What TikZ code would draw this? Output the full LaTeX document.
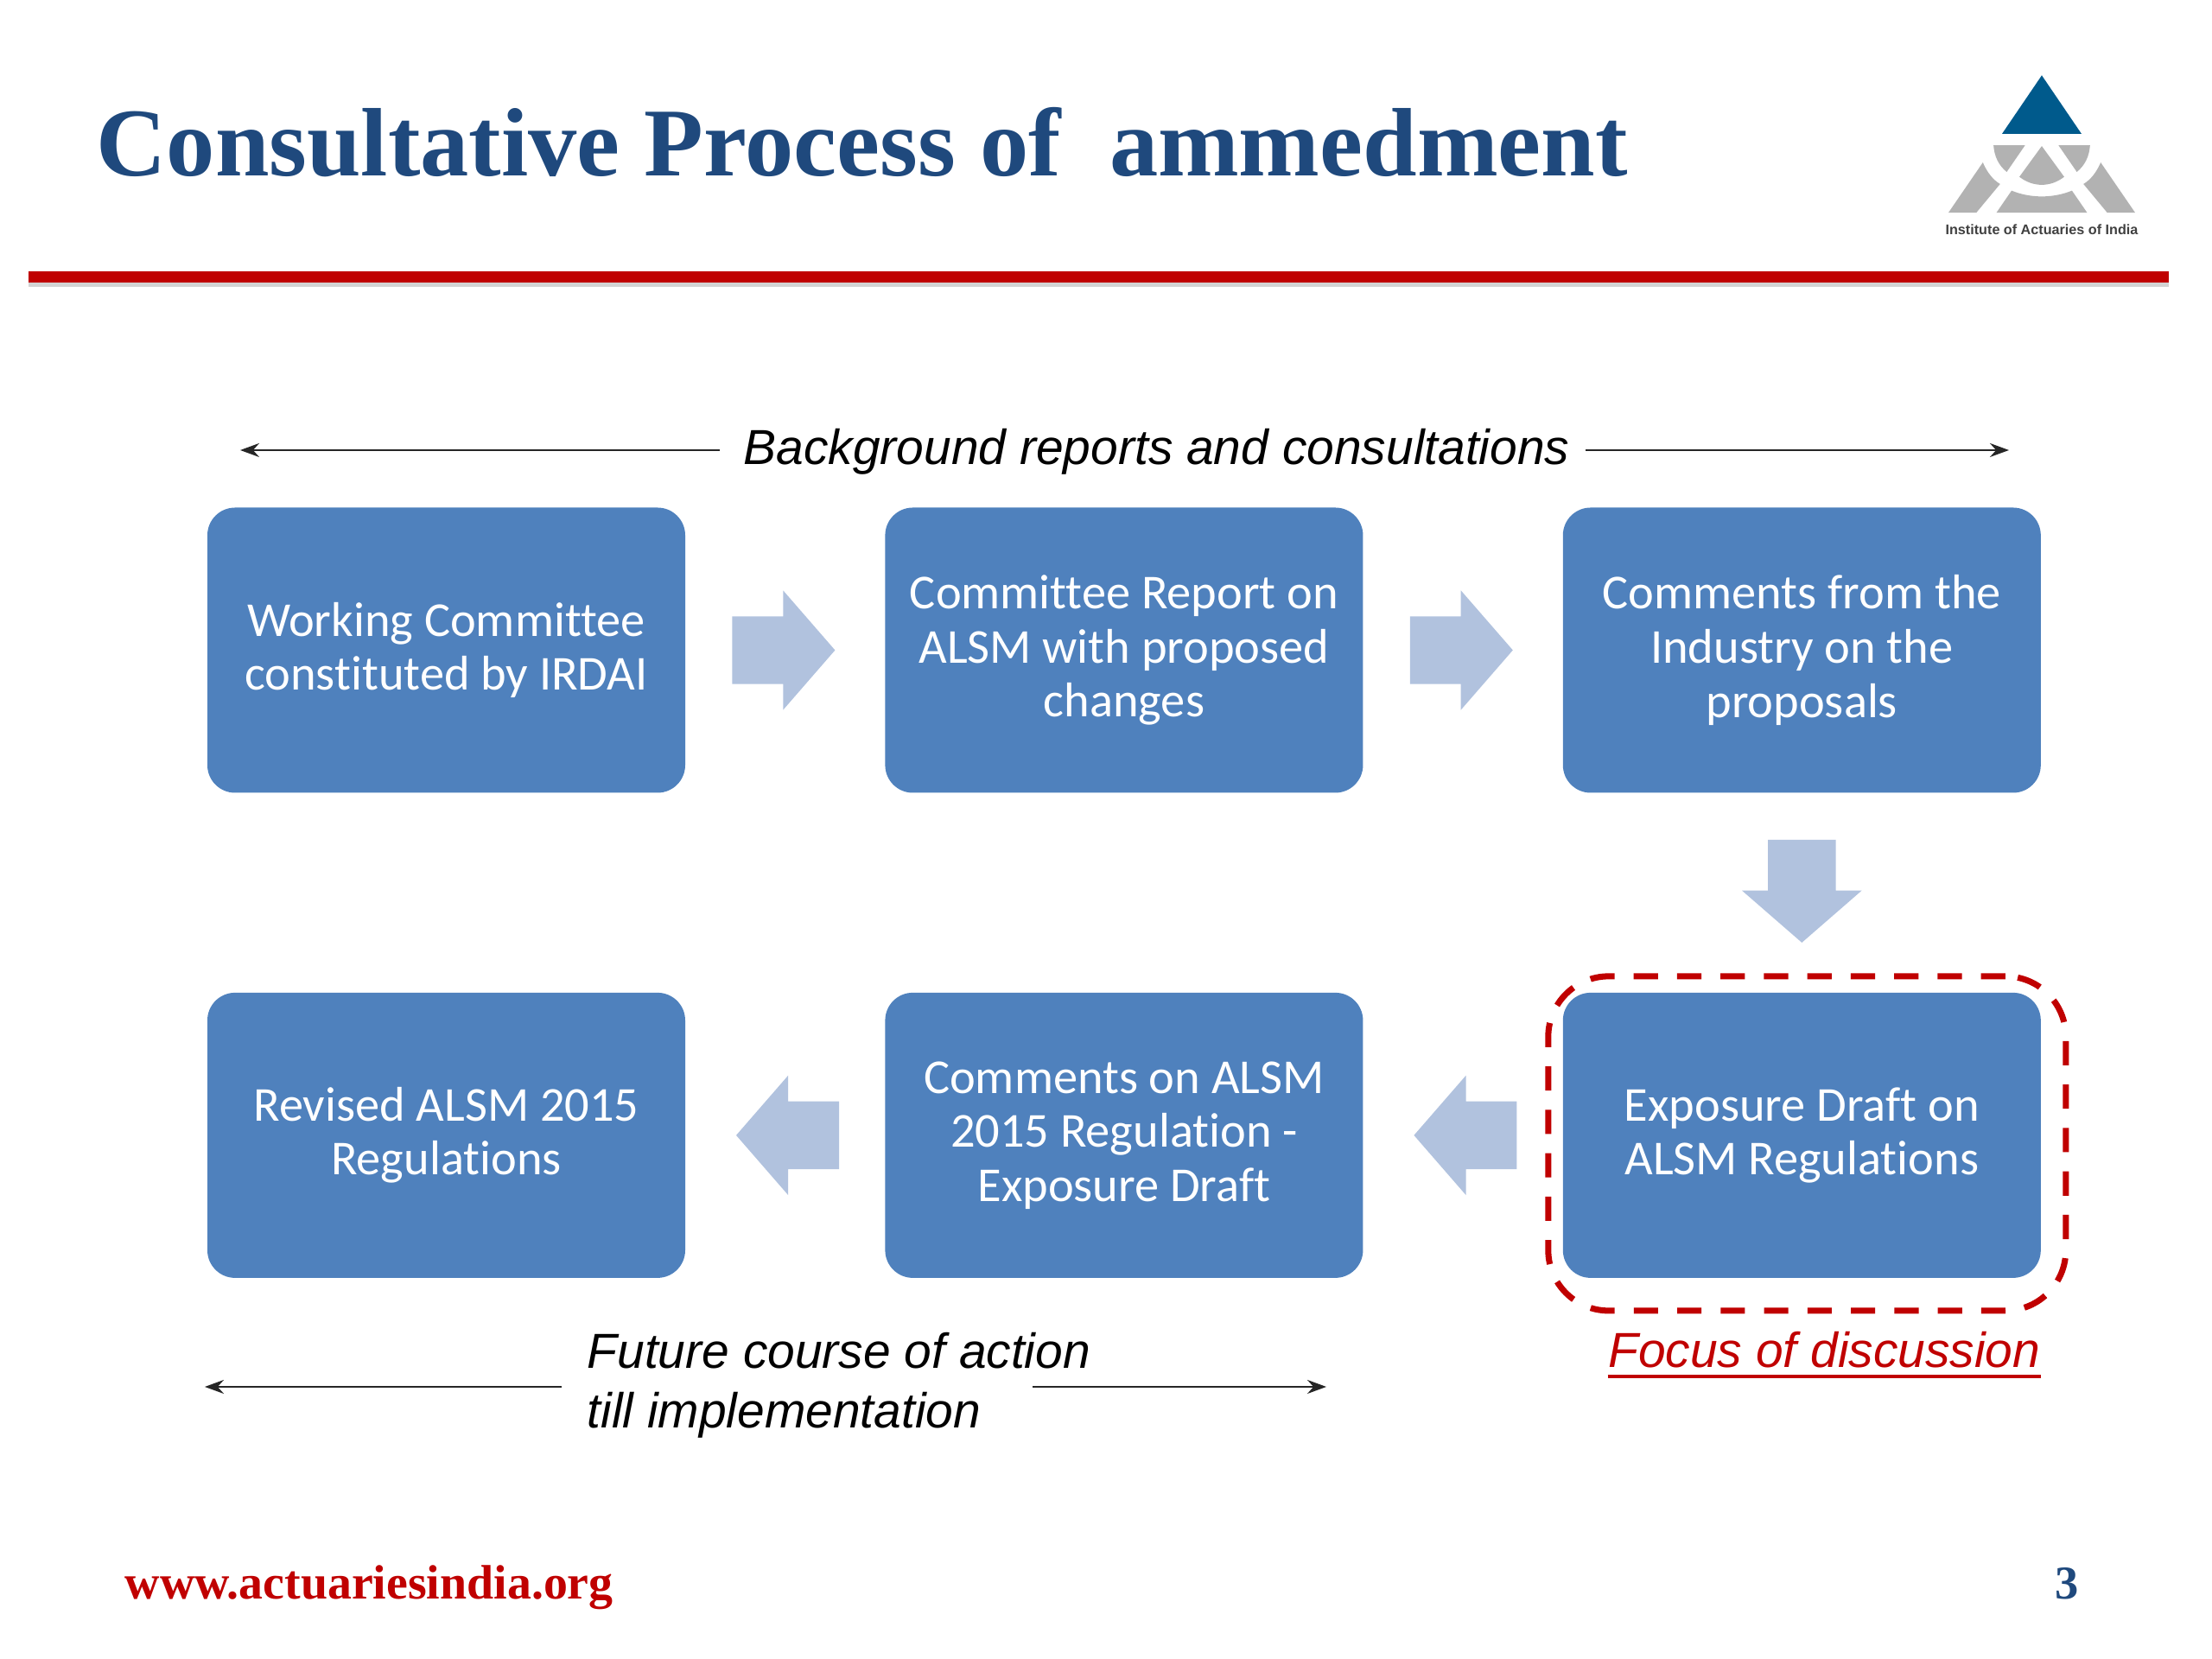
\documentclass[tikz,border=0pt]{standalone}
\usepackage{fontspec}
\setmainfont{Liberation Serif}
\setsansfont{Liberation Sans}
\newfontfamily\carlitofont[Ligatures=NoCommon]{Carlito}
\usetikzlibrary{arrows.meta,positioning,calc,shapes.arrows,shadows}
\definecolor{boxblue}{HTML}{4F81BD}
\definecolor{arrowblue}{HTML}{B1C2DE}
\definecolor{titleblue}{HTML}{1F497D}
\definecolor{deepred}{HTML}{C00000}
\definecolor{logoblue}{HTML}{005A8C}
\definecolor{logogray}{HTML}{B2B2B2}
\tikzset{
  stepbox/.style={rectangle,rounded corners=0.32cm,fill=boxblue,text=white,minimum width=5.53cm,minimum height=3.3cm,
    align=center,font=\carlitofont\fontsize{16.05}{17.8}\selectfont,inner sep=0pt},
  blockarr/.style={single arrow,fill=arrowblue,minimum height=1.19cm,minimum width=1.37cm,single arrow head extend=0.3cm,
    single arrow tip angle=98,inner xsep=0pt,inner ysep=0.385cm},
  thinarr/.style={-{Stealth[length=0.22cm,width=0.16cm]},line width=0.6pt,black!85},
  note/.style={font=\sffamily\itshape\fontsize{16.2}{19.4}\selectfont,inner sep=0pt,align=left},
  focusbox/.style={draw=deepred,line width=2pt,rounded corners=0.7cm,dash pattern=on 8pt off 6.3pt}
}
\begin{document}
\begin{tikzpicture}[node distance=2.3cm]
  \useasboundingbox (0,0) rectangle (25.6,19.2);

  % header
  \node[anchor=base west,inner sep=0pt,text=titleblue,font=\bfseries\fontsize{32}{36}\selectfont] (title) at (1.11,17.16) {Consultative Process of\hspace{0.25em} ammedment};
  \node[rectangle,fill=deepred,minimum width=24.77cm,minimum height=0.13cm,inner sep=0pt,drop shadow={shadow xshift=0pt,shadow yshift=-0.05cm,opacity=0.35}] (rule) at (12.715,15.99) {};

  % logo
  \begin{scope}[shift={(22,18.6)},x=0.003333cm,y=-0.003333cm]
    \fill[logoblue] (490,82) -- (628,285) -- (352,285) -- cycle;
    \fill[logogray] (285,385) .. controls (300,420) and (320,445) .. (345,460) -- (262,560) -- (165,560) -- cycle;
    \fill[logogray] (695,385) .. controls (680,420) and (660,445) .. (635,460) -- (718,560) -- (815,560) -- cycle;
    \fill[logogray] (385,483) .. controls (450,510) and (530,510) .. (595,483) -- (648,560) -- (332,560) -- cycle;
    \fill[logogray] (490,328) -- (568,435) .. controls (520,472) and (460,472) .. (412,435) -- cycle;
    \fill[logogray] (322,325) -- (432,325) -- (368,418) .. controls (340,395) and (325,365) .. (322,325) -- cycle;
    \fill[logogray] (658,325) -- (548,325) -- (612,418) .. controls (640,395) and (655,365) .. (658,325) -- cycle;
    \node[font=\sffamily\bfseries\fontsize{4.6}{6}\selectfont,text=black!75,inner sep=0pt] (logotext) at (490,618) {Institute of Actuaries of India};
  \end{scope}

  % process boxes
  \node[stepbox] (wc) at (5.165,11.675) {Working Committee\\constituted by IRDAI};
  \node[stepbox, right=of wc] (report) {Committee Report on\\ALSM with proposed\\changes};
  \node[stepbox, right=of report] (comments) {Comments from the\\Industry on the\\proposals};
  \node[stepbox, below=of comments] (draft) {Exposure Draft on\\ALSM Regulations};
  \node[stepbox, left=of draft] (cmtdraft) {Comments on ALSM\\2015 Regulation -\\Exposure Draft};
  \node[stepbox, left=of cmtdraft] (revised) {Revised ALSM 2015\\Regulations};

  % block arrows
  \node[blockarr, right=0.53cm of wc] (a1) {};
  \node[blockarr, right=0.53cm of report] (a2) {};
  \node[blockarr, shape border rotate=270, inner xsep=0.385cm, inner ysep=0pt, below=0.53cm of comments] (a3) {};
  \node[blockarr, shape border rotate=180, left=0.52cm of draft] (a4) {};
  \node[blockarr, shape border rotate=180, left=0.52cm of cmtdraft] (a5) {};

  \node[focusbox, minimum width=5.99cm, minimum height=3.87cm] (focus) at ($(draft)+(0.06,-0.095)$) {};

  % labels and thin arrows
  \node[note, anchor=west] (bg) at (8.6,13.97) {Background reports and consultations};
  \coordinate (bga) at (8.33,13.99);
  \coordinate (bgb) at (18.35,13.99);
  \coordinate (bgl) at (2.78,13.99);
  \coordinate (bgr) at (23.25,13.99);
  \draw[thinarr] (bga) -- (bgl);
  \draw[thinarr] (bgb) -- (bgr);

  \node[note, anchor=north west] (future) at (6.79,3.78) {Future course of action\\till implementation};
  \coordinate (futa) at (6.50,3.15);
  \coordinate (futl) at (2.37,3.15);
  \coordinate (futs) at (11.95,3.15);
  \coordinate (futr) at (15.35,3.15);
  \draw[thinarr] (futa) -- (futl);
  \draw[thinarr] (futs) -- (futr);

  \node[note, anchor=base east, text=deepred] (focustext) at (23.62,3.37) {Focus of discussion};
  \draw[deepred,line width=1.2pt] ($(focustext.base west)+(0,-0.1)$) -- ($(focustext.base east)+(0,-0.1)$);

  % footer
  \node[anchor=base west,inner sep=0pt,text=deepred,font=\bfseries\fontsize{15.9}{18}\selectfont] (web) at (1.44,0.69) {www.actuariesindia.org};
  \node[anchor=base,inner sep=0pt,text=titleblue,font=\bfseries\fontsize{15.5}{18}\selectfont] (page) at (23.92,0.69) {3};
\end{tikzpicture}
\end{document}
